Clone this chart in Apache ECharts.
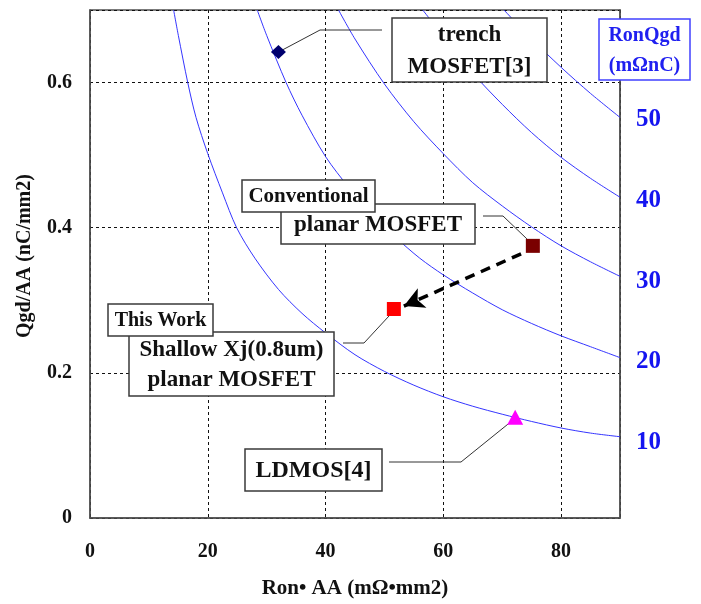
<!DOCTYPE html>
<html><head><meta charset="utf-8">
<script src="https://cdn.jsdelivr.net/npm/echarts@6/dist/echarts.min.js"></script>
<style>html,body{margin:0;padding:0;background:#fff}#c{width:701px;height:604px}</style>
</head><body><div id="c"></div>
<script>
// ---- data ----
const xTicks = [0, 20, 40, 60, 80];
const yTicks = ['0', '0.2', '0.4', '0.6'];
const rightTickLabels = ['10', '20', '30', '40', '50'];

const curve10 = [[14.2,0.70],[15,0.665],[16.6,0.60],[18,0.552],[20,0.502],[22.5,0.448],[24.9,0.40],[28,0.358],[32,0.315],[36,0.282],[40,0.255],[45,0.225],[50,0.202],[55,0.183],[60,0.167],[65,0.154],[70,0.143],[75,0.133],[80,0.124],[85,0.117],[90,0.112]];
const curve20 = [[28.4,0.70],[30,0.665],[33.3,0.60],[36,0.555],[40,0.498],[44,0.455],[48,0.418],[52,0.386],[56,0.358],[60,0.335],[65,0.31],[70,0.287],[75,0.268],[80,0.251],[85,0.236],[90,0.221]];
const curve30 = [[42.2,0.70],[45,0.66],[50,0.598],[55,0.546],[60,0.502],[65,0.462],[70,0.43],[75,0.401],[80,0.375],[85,0.353],[90,0.333]];
const curve40 = [[56.5,0.70],[60,0.664],[65,0.613],[70,0.57],[75,0.531],[80,0.497],[85,0.468],[90,0.442]];
const curve50 = [[70.3,0.70],[75,0.66],[80,0.621],[85,0.585],[90,0.552]];

const trenchPt = [32.0, 0.642];
const conventionalPt = [75.2, 0.375];
const thisWorkPt = [51.6, 0.288];
const ldmosPt = [72.2, 0.139];
const arrowFrom = [73.2, 0.364];
const arrowTo = [53.3, 0.292];

// ---- chart ----
const FONT = '"Liberation Serif","Times New Roman",serif';
const BLUE = '#3535ff';
const chart = echarts.init(document.getElementById('c'), null, {renderer: 'canvas'});

function curveSeries(d) {
  return {type: 'line', data: d, showSymbol: false, smooth: 0.3, silent: true, z: 2,
    lineStyle: {color: BLUE, width: 1}, animation: false};
}

chart.setOption({
  animation: false,
  backgroundColor: '#fff',
  grid: {left: 90, top: 10, right: 81, bottom: 86, show: true, borderColor: '#505050', borderWidth: 1.5, backgroundColor: 'transparent'},
  xAxis: {
    type: 'value', min: 0, max: 90, interval: 20,
    name: 'Ron\u2022 AA (m\u03A9\u2022mm2)', nameLocation: 'middle', nameGap: 60,
    nameTextStyle: {fontFamily: FONT, fontWeight: 'bold', fontSize: 21, color: '#111'},
    axisLine: {show: true, lineStyle: {color: '#505050', width: 1.5}},
    axisTick: {show: false},
    axisLabel: {margin: 24, fontFamily: FONT, fontWeight: 'bold', fontSize: 20, color: '#111',
      formatter: v => { const i = xTicks.indexOf(v); return i >= 0 ? String(xTicks[i]) : ''; }},
    splitLine: {show: true, lineStyle: {color: '#111', width: 1, type: [3, 3]}}
  },
  yAxis: [{
    type: 'value', min: 0, max: 0.7, interval: 0.2,
    name: 'Qgd/AA (nC/mm2)', nameLocation: 'middle', nameGap: 55,
    nameTextStyle: {fontFamily: FONT, fontWeight: 'bold', fontSize: 20, color: '#111', padding: [0, 0, 0, 16]},
    axisLine: {show: true, lineStyle: {color: '#505050', width: 1.5}},
    axisTick: {show: false},
    axisLabel: {margin: 18, fontFamily: FONT, fontWeight: 'bold', fontSize: 20, color: '#111',
      formatter: v => { const i = Math.round(v / 0.2); return (Math.abs(v - i * 0.2) < 1e-6 && i < yTicks.length) ? yTicks[i] : ''; }},
    splitLine: {show: true, lineStyle: {color: '#111', width: 1, type: [3, 3]}}
  }, {
    type: 'value', position: 'right', min: 0, max: 63, interval: 10,
    axisLine: {show: true, lineStyle: {color: '#505050', width: 1.5}},
    axisTick: {show: false},
    splitLine: {show: false},
    axisLabel: {margin: 16, fontFamily: FONT, fontWeight: 'bold', fontSize: 25, color: '#1414f0',
      verticalAlign: 'top', lineHeight: 10,
      formatter: v => { const s = String(Math.round(v)); return rightTickLabels.indexOf(s) >= 0 && Math.abs(v - Math.round(v)) < 1e-6 ? s : ''; }}
  }],
  series: [
    curveSeries(curve10), curveSeries(curve20), curveSeries(curve30), curveSeries(curve40), curveSeries(curve50),
    {type: 'scatter', data: [trenchPt], symbol: 'diamond', symbolSize: [15, 14], itemStyle: {color: '#00006e', opacity: 1}, z: 20, silent: true},
    {type: 'scatter', data: [conventionalPt], symbol: 'rect', symbolSize: 14, itemStyle: {color: '#7a0000', opacity: 1}, z: 20, silent: true,
      markLine: {silent: true, symbol: ['none', 'arrow'], symbolSize: [16, 20], animation: false,
        label: {show: false},
        lineStyle: {color: '#000', width: 3.5, type: [10, 7], opacity: 1},
        data: [[{coord: arrowFrom}, {coord: arrowTo}]]}},
    {type: 'scatter', data: [thisWorkPt], symbol: 'rect', symbolSize: 14, itemStyle: {color: '#ff0000', opacity: 1}, z: 20, silent: true},
    {type: 'scatter', data: [ldmosPt], symbol: 'triangle', symbolSize: [16, 15], itemStyle: {color: '#ff00ff', opacity: 1}, z: 20, silent: true}
  ]
});

// ---- annotation boxes and leader lines ----
const px = p => chart.convertToPixel({gridIndex: 0}, p);
function box(x, y, w, h, text, size, lh, color, border) {
  return {type: 'group', z: 10, children: [
    {type: 'rect', shape: {x: x, y: y, width: w, height: h}, style: {fill: '#fff', stroke: border || '#3a3a3a', lineWidth: 1.5}, z: 10},
    {type: 'text', z: 11, style: {text: text, x: x + w / 2, y: y + h / 2 + 1, align: 'center', verticalAlign: 'middle',
      font: 'bold ' + size + 'px ' + FONT, fill: color || '#111', lineHeight: lh || size}}
  ]};
}
function leader(pts) {
  return {type: 'polyline', z: 9, shape: {points: pts}, style: {stroke: '#333', lineWidth: 1, fill: null}};
}
const pT = px(trenchPt), pC = px(conventionalPt), pW = px(thisWorkPt), pL = px(ldmosPt);
chart.setOption({graphic: [
  leader([pT, [320, 30], [382, 30]]),
  leader([[483, 216], [503, 216], [pC[0] - 6, pC[1] - 7]]),
  leader([[343, 343], [364, 343], [pW[0] - 3, pW[1] + 5]]),
  leader([[389, 462], [461, 462], [pL[0] - 6, pL[1] + 6]]),
  box(392, 18, 155, 64, 'trench\nMOSFET[3]', 23, 32),
  box(281, 204, 194, 40, 'planar MOSFET', 23),
  box(242, 180, 133, 32, 'Conventional', 21),
  box(129, 332, 205, 64, 'Shallow Xj(0.8um)\nplanar MOSFET', 23, 30),
  box(108, 304, 105, 32, 'This Work', 20),
  box(245, 449, 137, 42, 'LDMOS[4]', 24),
  box(599, 19, 91, 61, 'RonQgd\n(m\u03A9nC)', 20, 30, '#2020f0', '#4040ff')
]});
</script></body></html>
